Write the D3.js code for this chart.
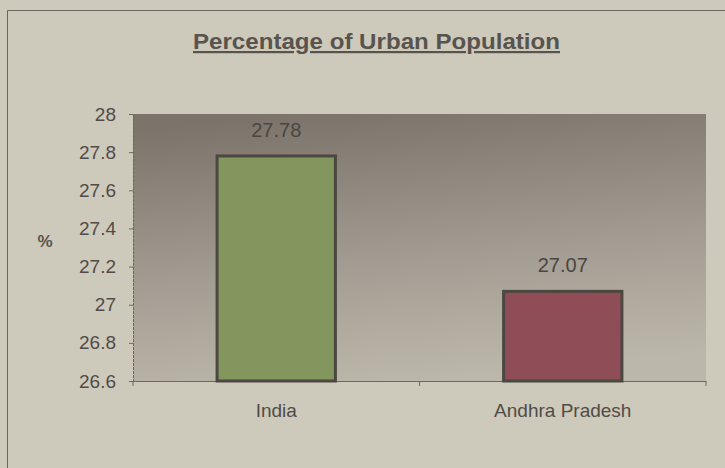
<!DOCTYPE html>
<html><head><meta charset="utf-8">
<script src="https://cdn.jsdelivr.net/npm/d3@7"></script>
<style>html,body{margin:0;padding:0;background:#cdc9bb;}svg{display:block;}</style>
</head><body>
<script>
const categories = ["India", "Andhra Pradesh"];
const values = [27.78, 27.07];
const barColors = ["#83965e", "#8f4e57"];
const yTicks = [26.6, 26.8, 27, 27.2, 27.4, 27.6, 27.8, 28];
const title = "Percentage of Urban Population";
const yLabel = "%";

(function () {
const W = 725, H = 468;
const FONT = "Liberation Sans, Arial, sans-serif";
const svg = d3.select("body").append("svg").attr("width", W).attr("height", H);
const defs = svg.append("defs");
const g1 = defs.append("linearGradient").attr("id", "plotbg").attr("x1", "0.3").attr("y1", "0").attr("x2", "0.5").attr("y2", "1");
g1.append("stop").attr("offset", "0").attr("stop-color", "#7c746b");
g1.append("stop").attr("offset", "0.55").attr("stop-color", "#a29b91");
g1.append("stop").attr("offset", "1").attr("stop-color", "#bcb7ab");

svg.append("rect").attr("x", 0).attr("y", 0).attr("width", W).attr("height", H).attr("fill", "#cdc9bb");
svg.append("path").attr("d", `M7.5,${H} L7.5,10.5 L${W},10.5`).attr("fill", "none").attr("stroke", "#6a655d").attr("stroke-width", 1);

const pLeft = 133, pRight = 706, pTop = 114, pBottom = 381;
const x = d3.scaleBand().domain(categories).range([pLeft, pRight]).paddingInner(0.587).paddingOuter(0.2935);
const y = d3.scaleLinear().domain([26.6, 28]).range([pBottom, pTop]);

svg.append("rect").attr("x", pLeft).attr("y", pTop).attr("width", pRight - pLeft).attr("height", pBottom - pTop).attr("fill", "url(#plotbg)");

const yAxis = d3.axisLeft(y).tickValues(yTicks).tickSize(4).tickPadding(13).tickFormat(d => String(+d.toFixed(1)));
const ya = svg.append("g").attr("transform", `translate(${pLeft},0)`).call(yAxis);
ya.select(".domain").attr("stroke", "#6e6860").attr("stroke-dasharray", "3,1");
ya.selectAll(".tick line").attr("stroke", "#6e6860");
ya.selectAll("text").attr("font-family", FONT).attr("font-size", 19).attr("fill", "#514c47");

const xa = svg.append("g").attr("transform", `translate(0,${pBottom})`).call(d3.axisBottom(x).tickSize(0).tickPadding(23));
xa.select(".domain").attr("stroke", "#6e6860");
xa.selectAll("text").attr("font-family", FONT).attr("font-size", 19).attr("fill", "#514c47");
// category separator tick marks
const sepX = [pLeft, x(categories[1]) - x.step() * x.paddingInner() / 2, pRight];
xa.selectAll("line.sep").data(sepX).enter().append("line").attr("class", "sep")
  .attr("x1", d => d).attr("x2", d => d).attr("y1", 0).attr("y2", 5).attr("stroke", "#6e6860");

svg.selectAll("rect.bar").data(values).enter().append("rect").attr("class", "bar")
  .attr("x", (d, i) => x(categories[i]))
  .attr("y", d => y(d))
  .attr("width", x.bandwidth())
  .attr("height", d => pBottom - y(d))
  .attr("fill", (d, i) => barColors[i])
  .attr("stroke", "#4b4741").attr("stroke-width", 3);

svg.selectAll("text.val").data(values).enter().append("text").attr("class", "val")
  .attr("x", (d, i) => x(categories[i]) + x.bandwidth() / 2)
  .attr("y", d => y(d) - 19)
  .attr("text-anchor", "middle")
  .attr("font-family", FONT).attr("font-size", 20).attr("fill", "#4a4641")
  .text(d => d.toFixed(2));

svg.append("text").attr("x", 193).attr("y", 49)
  .attr("font-family", FONT).attr("font-size", 22).attr("font-weight", "bold")
  .attr("textLength", 367).attr("lengthAdjust", "spacingAndGlyphs")
  .attr("fill", "#59534e").attr("text-decoration", "underline").text(title);

svg.append("text").attr("x", 45).attr("y", 247).attr("text-anchor", "middle")
  .attr("font-family", FONT).attr("font-size", 17).attr("font-weight", "bold")
  .attr("fill", "#59534e").text(yLabel);
})();
</script>
</body></html>
